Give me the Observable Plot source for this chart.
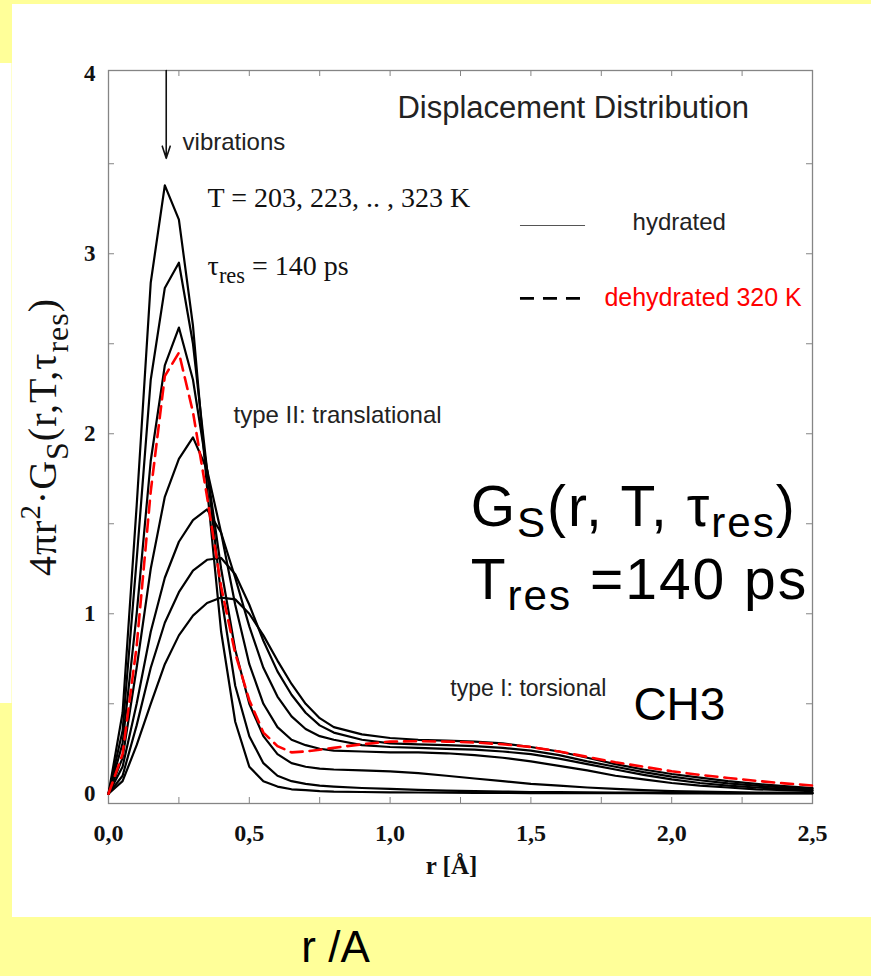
<!DOCTYPE html>
<html><head><meta charset="utf-8">
<script src="https://cdn.jsdelivr.net/npm/d3@7"></script>
<script src="https://cdn.jsdelivr.net/npm/@observablehq/plot@0.6"></script>
<style>
html,body{margin:0;padding:0;background:#ffff99;}
#wrap{position:relative;width:871px;height:976px;overflow:hidden;background:#ffff99;}
.w{position:absolute;background:#fff;}
#chart{position:absolute;left:0;top:0;}
</style></head><body>
<div id="wrap">
<div class="w" style="left:12px;top:4px;width:859px;height:913px"></div>
<div class="w" style="left:0;top:63px;width:12px;height:640px"></div>
<div style="position:absolute;left:11px;top:63px;width:1px;height:640px;background:#ffffcc"></div>
<div id="chart"></div>
</div>
<script>
// r grid [Å]
const rValues = [0,0.05,0.1,0.15,0.2,0.25,0.3,0.35,0.4,0.45,0.5,0.55,0.6,0.65,0.7,0.75,0.8,
  0.9,1.0,1.1,1.2,1.3,1.4,1.5,1.6,1.7,1.8,1.9,2.0,2.1,2.2,2.3,2.4,2.5];
// hydrated, T = 203 ... 323 K
const temps = ["203 K","223 K","243 K","263 K","283 K","303 K","323 K"];
const G203 = [0,0.45,1.6,2.84,3.38,3.19,2.6,1.7,0.9,0.4,0.15,0.07,0.04,0.025,0.02,0.015,0.012,
  0.01,0.008,0.007,0.006,0.005,0.005,0.004,0.004,0.003,0.003,0.003,0.002,0.002,0.002,0.002,0.002,0.002];
const G223 = [0,0.35,1.3,2.3,2.81,2.95,2.5,1.8,1.1,0.6,0.32,0.17,0.1,0.07,0.055,0.045,0.04,
  0.032,0.027,0.022,0.018,0.015,0.012,0.01,0.009,0.008,0.007,0.006,0.005,0.005,0.004,0.004,0.004,0.003];
const G243 = [0,0.28,1.0,1.85,2.38,2.59,2.3,1.8,1.25,0.8,0.5,0.32,0.22,0.17,0.15,0.14,0.135,
  0.13,0.125,0.115,0.1,0.085,0.07,0.055,0.045,0.035,0.027,0.02,0.015,0.012,0.009,0.007,0.006,0.005];
const G263 = [0,0.2,0.7,1.25,1.65,1.86,1.98,1.8,1.45,1.05,0.72,0.5,0.37,0.3,0.27,0.25,0.24,
  0.235,0.23,0.23,0.225,0.215,0.2,0.18,0.155,0.13,0.1,0.08,0.06,0.045,0.035,0.025,0.02,0.015];
const G283 = [0,0.15,0.5,0.9,1.2,1.4,1.52,1.58,1.45,1.2,0.93,0.7,0.54,0.43,0.36,0.32,0.3,
  0.27,0.26,0.255,0.25,0.245,0.235,0.22,0.195,0.165,0.135,0.105,0.08,0.06,0.045,0.035,0.027,0.02];
const G303 = [0,0.1,0.38,0.7,0.95,1.12,1.24,1.3,1.31,1.22,1.05,0.85,0.68,0.55,0.45,0.38,0.34,
  0.3,0.28,0.275,0.27,0.265,0.255,0.24,0.215,0.18,0.15,0.12,0.095,0.075,0.058,0.045,0.035,0.028];
const G323 = [0,0.07,0.27,0.5,0.72,0.88,0.99,1.06,1.09,1.08,1.0,0.88,0.74,0.61,0.5,0.42,0.37,
  0.33,0.31,0.3,0.295,0.29,0.28,0.26,0.235,0.2,0.165,0.135,0.11,0.09,0.07,0.055,0.042,0.032];
// dehydrated 320 K
const Gdehyd = [0,0.22,0.82,1.68,2.32,2.45,2.12,1.65,1.15,0.78,0.52,0.34,0.265,0.23,0.235,0.245,0.255,
  0.275,0.29,0.292,0.29,0.285,0.275,0.26,0.235,0.205,0.175,0.15,0.125,0.105,0.088,0.072,0.058,0.046];

const xTickLabels = [0,0.5,1.0,1.5,2.0,2.5];
const xMinorTicks = [0.25,0.5,0.75,1.0,1.25,1.5,1.75,2.0,2.25];
const yTickLabels = [0,1,2,3,4];
const yMinorTicks = [0.5,1,1.5,2,2.5,3,3.5];

const SANS = "'Liberation Sans', Arial, Helvetica, sans-serif";
const SERIF = "'Liberation Serif', 'Times New Roman', Times, serif";

const hydSeries = [G203,G223,G243,G263,G283,G303,G323];
const hydRows = hydSeries.flatMap((vals,i) => vals.map((v,j) => ({r: rValues[j], g: v, T: temps[i]})));
const dehRows = Gdehyd.map((v,j) => ({r: rValues[j], g: v}));

// annotations (data units)
const notesSans = [
  {x:1.026, y:3.81, t:"Displacement Distribution", s:31, c:"#222"},
  {x:0.263, y:3.62, t:"vibrations", s:24, c:"#222"},
  {x:1.861, y:3.174, t:"hydrated", s:24, c:"#222"},
  {x:1.761, y:2.752, t:"dehydrated 320 K", s:25, c:"#ff0000"},
  {x:0.444, y:2.102, t:"type II: translational", s:24, c:"#222"},
  {x:1.214, y:0.585, t:"type I: torsional", s:23, c:"#222"},
  {x:1.286, y:1.59, t:"G_{S}(r, T, τ_{res})", s:57, c:"#000"},
  {x:1.286, y:1.185, t:"T_{res} =140 ps", s:57, c:"#000"},
  {x:1.864, y:0.49, t:"CH3", s:46, c:"#000"}
];
const notesSerif = [
  {x:0.352, y:3.31, t:"T = 203, 223, .. , 323 K", s:28},
  {x:0.352, y:2.93, t:"τ_{res} = 140 ps", s:28}
];
const arrowSpec = [{x1:0.205, y1:4.018, x2:0.205, y2:3.53}];
const legendSolid = [{x1:1.463, x2:1.694, y:3.157}];
const legendDash = [{x1:1.463, x2:1.683, y:2.752}];

const plot = Plot.plot({
  width: 871, height: 976,
  marginTop: 70, marginLeft: 108, marginRight: 59, marginBottom: 173,
  x: {domain: [0, 2.5]},
  y: {domain: [-0.054, 4.018]},
  style: {background: "transparent", overflow: "visible"},
  marks: [
    Plot.frame({stroke: "#858585", strokeWidth: 1.3}),
    Plot.tickX(xMinorTicks, {x: d => d, stroke: "#858585", insetTop: 733 - 6}),
    Plot.tickX(xMinorTicks, {x: d => d, stroke: "#858585", insetBottom: 733 - 6}),
    Plot.tickY(yMinorTicks, {y: d => d, stroke: "#858585", insetRight: 704 - 6}),
    Plot.tickY(yMinorTicks, {y: d => d, stroke: "#858585", insetLeft: 704 - 6}),
    Plot.axisX({ticks: xTickLabels, tickSize: 0, tickPadding: 20, label: null,
      tickFormat: d => d.toFixed(1).replace(".", ","), fontSize: 24, fontWeight: "bold", fontFamily: SERIF, fill: "#111"}),
    Plot.axisY({ticks: yTickLabels, tickSize: 0, tickPadding: 13, label: null,
      tickFormat: d => String(d), fontSize: 23, fontWeight: "bold", fontFamily: SERIF, fill: "#111"}),
    Plot.line(hydRows, {x: "r", y: "g", z: "T", stroke: "#000", strokeWidth: 2.2}),
    Plot.line(dehRows, {x: "r", y: "g", stroke: "#ff0000", strokeWidth: 2.6, strokeDasharray: "12,7"}),
    Plot.arrow(arrowSpec, {x1: "x1", y1: "y1", x2: "x2", y2: "y2", stroke: "#111", strokeWidth: 1.6, headLength: 12, headAngle: 36}),
    Plot.ruleY(legendSolid, {y: "y", x1: "x1", x2: "x2", stroke: "#555", strokeWidth: 1.2}),
    Plot.ruleY(legendDash, {y: "y", x1: "x1", x2: "x2", stroke: "#000", strokeWidth: 2.6, strokeDasharray: "14,9"}),
    Plot.text(notesSans, {x: "x", y: "y", text: "t", fontSize: "s", fill: "c", textAnchor: "start", fontFamily: SANS}),
    Plot.text(notesSerif, {x: "x", y: "y", text: "t", fontSize: "s", fill: "#111", textAnchor: "start", fontFamily: SERIF}),
    Plot.text(["4πr^{2}·G_{S}(r,T,τ_{res})"], {frameAnchor: "left", textAnchor: "middle", rotate: -90, dx: -65, fontSize: 40, fontFamily: SERIF, fill: "#111"}),
    Plot.text(["r [Å]"], {frameAnchor: "bottom", dx: -9, dy: 70, fontSize: 25, fontWeight: "bold", fontFamily: SERIF, fill: "#111"}),
    Plot.text(["r /A"], {frameAnchor: "bottom", dx: -125, dy: 158, fontSize: 44, fontFamily: SANS, fill: "#000"})
  ]
});
document.getElementById("chart").appendChild(plot);

// render _{...} and ^{...} as subscript / superscript tspans
d3.select(plot).selectAll("text").each(function() {
  const txt = this.textContent;
  if (!/[_^]\{/.test(txt)) return;
  const fs = parseFloat(getComputedStyle(this).fontSize) || 16;
  const big = fs > 50;
  const subShift = big ? 0.2 : 0.28;
  const subSize = big ? 0.74 : 0.8;
  if (big) this.style.letterSpacing = "2px";
  else if (fs > 35) this.style.letterSpacing = "1px";
  const parts = [];
  const re = /([_^])\{([^}]*)\}|([^_^]+)/g;
  let m;
  while ((m = re.exec(txt))) parts.push(m[3] !== undefined ? {k: "n", s: m[3]} : {k: m[1], s: m[2]});
  while (this.firstChild) this.removeChild(this.firstChild);
  let shift = 0;
  for (const p of parts) {
    const ts = document.createElementNS("http://www.w3.org/2000/svg", "tspan");
    let target = 0;
    if (p.k === "_") { target = subShift * fs; ts.setAttribute("font-size", (subSize * fs) + "px"); }
    else if (p.k === "^") { target = -0.4 * fs; ts.setAttribute("font-size", (0.72 * fs) + "px"); }
    ts.setAttribute("dy", (target - shift) + "px");
    shift = target;
    ts.textContent = p.s;
    this.appendChild(ts);
  }
});
</script>
</body></html>
